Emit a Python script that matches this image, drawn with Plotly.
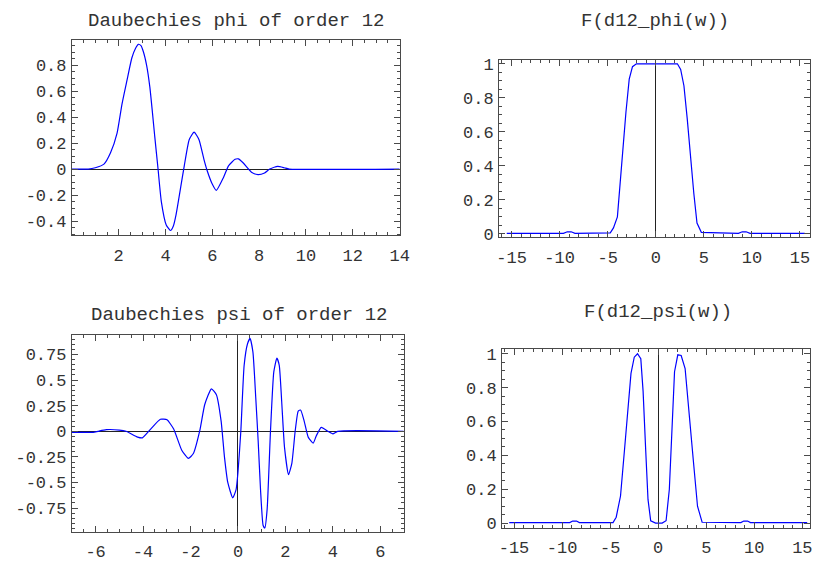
import plotly.graph_objects as go

# ---- data ----
phi_t = [0, 0.7, 1.0, 1.37, 1.65, 1.93, 2.14, 2.35, 2.56, 2.72, 2.84, 2.95, 3.05, 3.19, 3.33, 3.54,
         3.68, 3.82, 4.03, 4.21, 4.33, 4.45, 4.66, 4.80, 5.01, 5.22, 5.43, 5.64, 5.78, 5.99, 6.17,
         6.48, 6.69, 6.97, 7.11, 7.3, 7.67, 7.95, 8.23, 8.45, 8.79, 9.07, 9.28, 14]
phi_v = [0, 0, 0.01, 0.038, 0.125, 0.276, 0.50, 0.68, 0.855, 0.93, 0.96, 0.95, 0.905, 0.80, 0.63, 0.25,
         0, -0.25, -0.43, -0.473, -0.44, -0.35, -0.126, 0.025, 0.226, 0.284, 0.226, 0.075, -0.013, -0.113, -0.164,
         -0.063, 0.025, 0.075, 0.078, 0.05, -0.025, -0.043, -0.03, 0.0, 0.02, 0.01, 0, 0]

psi_t = [-7, -6.1, -5.9, -5.55, -5.0, -4.72, -4.23, -4.03, -3.68, -3.27, -2.99, -2.71, -2.37, -2.09,
         -1.88, -1.61, -1.40, -1.12, -0.91, -0.71, -0.57, -0.43, -0.22, -0.08, 0.0, 0.12, 0.26, 0.40,
         0.51, 0.63, 0.75, 0.85, 0.95, 1.06, 1.13, 1.23, 1.37, 1.51, 1.64, 1.74, 1.85, 1.96, 2.13, 2.27,
         2.41, 2.54, 2.64, 2.79, 2.96, 3.17, 3.30, 3.51, 3.79, 4.0, 4.2, 7]
psi_v = [-0.01, -0.01, 0.0, 0.016, 0.012, 0.0, -0.057, -0.064, 0.022, 0.118, 0.112, 0.022, -0.185, -0.265,
         -0.217, 0.006, 0.262, 0.415, 0.358, 0.10, -0.25, -0.50, -0.65, -0.57, -0.40, 0.0, 0.645, 0.853,
         0.907, 0.773, 0.326, -0.09, -0.568, -0.92, -0.945, -0.76, 0.0, 0.58, 0.716, 0.645, 0.262, -0.153, -0.424, -0.313,
         0.0, 0.198, 0.208, 0.10, -0.057, -0.115, -0.045, 0.038, 0.0, -0.025, 0.0, 0.0]

fphi_w = [-15.5, -9.6, -9.2, -8.8, -8.4, -4.73, -4.40, -3.99, -3.71, -3.44, -3.10, -2.76, -2.42, -2.01,
          2.25, 2.59, 2.93, 3.27, 3.61, 3.96, 4.29, 4.74, 8.6, 9.0, 9.4, 9.8, 15.5]
fphi_v = [0.003, 0.003, 0.012, 0.012, 0.003, 0.006, 0.035, 0.10, 0.294, 0.486, 0.717, 0.91, 0.983, 1.0,
          1.0, 0.967, 0.871, 0.679, 0.448, 0.237, 0.063, 0.009, 0.003, 0.012, 0.012, 0.003, 0.003]

fpsi_w = [-15.5, -9.2, -8.9, -8.5, -8.2, -4.7, -4.37, -3.92, -3.51, -3.17, -2.83, -2.49, -2.15, -1.81,
          -1.57, -1.30, -1.06, -0.78, -0.27, 0.41, 0.82, 1.16, 1.43, 1.70, 2.04, 2.39, 2.80, 3.20, 3.65,
          4.09, 4.57, 8.6, 8.9, 9.3, 9.6, 15.5]
fpsi_v = [0.003, 0.003, 0.012, 0.012, 0.003, 0.003, 0.035, 0.16, 0.43, 0.68, 0.884, 0.98, 1.0, 0.971,
          0.778, 0.43, 0.14, 0.014, 0.0, 0.0, 0.014, 0.2, 0.585, 0.894, 0.994, 0.99, 0.913, 0.68, 0.373,
          0.10, 0.005, 0.003, 0.012, 0.012, 0.003, 0.003]

titles = ["Daubechies phi of order 12", "F(d12_phi(w))", "Daubechies psi of order 12", "F(d12_psi(w))"]

tl_xticks = [2, 4, 6, 8, 10, 12, 14]
tl_xtext = ["2", "4", "6", "8", "10", "12", "14"]
tl_yticks = [-0.4, -0.2, 0, 0.2, 0.4, 0.6, 0.8]
tl_ytext = ["-0.4", "-0.2", "0", "0.2", "0.4", "0.6", "0.8"]
f_xticks = [-15, -10, -5, 0, 5, 10, 15]
f_xtext = ["-15", "-10", "-5", "0", "5", "10", "15"]
f_yticks = [0, 0.2, 0.4, 0.6, 0.8, 1]
f_ytext = ["0", "0.2", "0.4", "0.6", "0.8", "1"]
bl_xticks = [-6, -4, -2, 0, 2, 4, 6]
bl_xtext = ["-6", "-4", "-2", "0", "2", "4", "6"]
bl_yticks = [-0.75, -0.5, -0.25, 0, 0.25, 0.5, 0.75]
bl_ytext = ["-0.75", "-0.5", "-0.25", "0", "0.25", "0.5", "0.75"]

W, H = 824, 570
FONT = "Liberation Mono, Courier New, monospace"
TXT = "#333333"
FRAME = "#4a4a4a"
BLUE = "#0000ff"

fig = go.Figure()
line = dict(color=BLUE, width=1.2, shape="spline", smoothing=0.5)
fig.add_trace(go.Scatter(x=phi_t, y=phi_v, mode="lines", line=line, xaxis="x", yaxis="y"))
fig.add_trace(go.Scatter(x=fphi_w, y=fphi_v, mode="lines", line=dict(color=BLUE, width=1.2), xaxis="x2", yaxis="y2"))
fig.add_trace(go.Scatter(x=psi_t, y=psi_v, mode="lines", line=line, xaxis="x3", yaxis="y3"))
fig.add_trace(go.Scatter(x=fpsi_w, y=fpsi_v, mode="lines", line=dict(color=BLUE, width=1.2), xaxis="x4", yaxis="y4"))


def px_x(a, b):
    return [a / W, b / W]


def px_y(top, bottom):
    return [1 - bottom / H, 1 - top / H]


def axis(domain, rng, tickvals, ticktext, minor_dtick, zeroline, anchor, standoff):
    return dict(
        domain=domain, range=rng, anchor=anchor,
        tickmode="array", tickvals=tickvals, ticktext=ticktext,
        ticks="inside", ticklen=6, tickwidth=1, tickcolor=FRAME,
        minor=dict(ticks="inside", ticklen=3, dtick=minor_dtick, tickcolor=FRAME, tickwidth=1, showgrid=False),
        showline=True, linecolor=FRAME, linewidth=1, mirror="allticks",
        showgrid=False, zeroline=zeroline, zerolinecolor="#222222", zerolinewidth=1,
        tickfont=dict(family=FONT, size=17, color=TXT),
        ticklabelstandoff=standoff,
        fixedrange=True,
    )


layout = dict(
    width=W, height=H, margin=dict(l=0, r=0, t=0, b=0),
    paper_bgcolor="white", plot_bgcolor="white", showlegend=False,
    xaxis=axis(px_x(70, 403), [0, 14], tl_xticks, tl_xtext, 0.5, False, "y", 4),
    yaxis=axis(px_y(37, 236), [-0.511, 0.991], tl_yticks, tl_ytext, 0.05, True, "x", 1),
    xaxis2=axis(px_x(504, 820), [-16.3, 16.05], f_xticks, f_xtext, 1, True, "y2", 4),
    yaxis2=axis(px_y(57, 238), [-0.021, 1.023], f_yticks, f_ytext, 0.05, False, "x2", 1),
    xaxis3=axis(px_x(70, 407), [-7, 6.98], bl_xticks, bl_xtext, 0.5, True, "y3", 4),
    yaxis3=axis(px_y(338, 538), [-0.98, 0.936], bl_yticks, bl_ytext, 0.05, True, "x3", 1),
    xaxis4=axis(px_x(507, 820), [-16.25, 15.8], f_xticks, f_xtext, 1, True, "y4", 4),
    yaxis4=axis(px_y(352, 534), [-0.027, 1.027], f_yticks, f_ytext, 0.05, False, "x4", 1),
)
fig.update_layout(**layout)

title_pos = [(236.7, 17), (662.8, 17.3), (240, 317.3), (665.8, 314)]
for t, (x, y) in zip(titles, title_pos):
    fig.add_annotation(text=t, x=x / W, y=1 - y / H, xref="paper", yref="paper",
                       xanchor="center", yanchor="middle", showarrow=False,
                       font=dict(family=FONT, size=19, color=TXT))

fig.write_html("out.html")
